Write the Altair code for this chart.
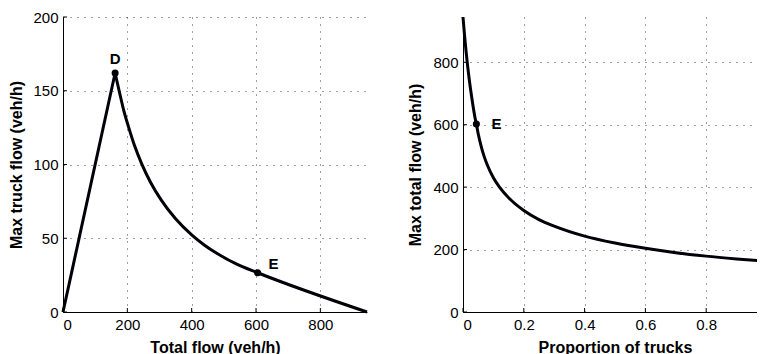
import altair as alt
import pandas as pd

# ---- Left panel: max truck flow vs total flow ----
left_total = [0, 162, 175, 189, 203, 222, 245, 272, 305, 350, 400, 440, 478, 540, 605, 945]
left_truck = [0, 162, 149.5, 136.5, 126, 113, 100.3, 88, 76, 63.2, 52.3, 45.3, 39.8, 32.4, 26.6, 0]
left_points_name = ["D", "E"]
left_points_total = [162, 605]
left_points_truck = [162, 26.6]

# ---- Right panel: max total flow vs proportion of trucks ----
prop_trucks = [0, 0.005, 0.01, 0.02, 0.03, 0.04, 0.044, 0.05, 0.06, 0.07, 0.08, 0.10,
               0.12, 0.15, 0.2, 0.25, 0.3, 0.4, 0.5, 0.6, 0.7, 0.8, 0.9, 1.0]
max_total = [945, 887, 836, 749, 679, 620, 602, 571, 530, 497, 471, 430,
             400, 366, 325, 296, 275, 243, 221, 204, 190, 179, 170, 162]
right_points_name = ["E", "D"]
right_points_prop = [0.044, 1.0]
right_points_total = [602, 162]

x_ticks_left = [0, 200, 400, 600, 800]
y_ticks_left = [0, 50, 100, 150, 200]
x_ticks_right = [0, 0.2, 0.4, 0.6, 0.8, 1.0]
y_ticks_right = [0, 200, 400, 600, 800]

FONT = "Liberation Sans"
LINE = "#000008"
TICK = 4

left_df = pd.DataFrame({
    "total": left_total[:2] + left_total[1:],
    "truck": left_truck[:2] + left_truck[1:],
    "seg": ["up", "up"] + ["down"] * (len(left_total) - 1),
})
left_pts = pd.DataFrame({"name": left_points_name, "total": left_points_total,
                         "truck": left_points_truck})
right_df = pd.DataFrame({"p": prop_trucks, "q": max_total})
right_pts = pd.DataFrame({"name": right_points_name, "p": right_points_prop,
                          "q": right_points_total})

W, H = 304, 295

lx = alt.X("total:Q", title="Total flow (veh/h)",
           scale=alt.Scale(domain=[0, 945], nice=False),
           axis=alt.Axis(values=x_ticks_left))
ly = alt.Y("truck:Q", title="Max truck flow (veh/h)",
           scale=alt.Scale(domain=[0, 200], nice=False),
           axis=alt.Axis(values=y_ticks_left, titlePadding=8))

left_line = alt.Chart(left_df).mark_line(color=LINE, strokeWidth=3, interpolate="monotone").encode(
    x=lx, y=ly, detail="seg:N")
left_dot = alt.Chart(left_pts).mark_circle(color=LINE, size=50, opacity=1).encode(x=lx, y=ly)
left_D = alt.Chart(left_pts[left_pts.name == "D"]).mark_text(
    font=FONT, fontSize=15, fontWeight="bold", color="black", dy=-14, baseline="middle"
).encode(x=lx, y=ly, text="name:N")
left_E = alt.Chart(left_pts[left_pts.name == "E"]).mark_text(
    font=FONT, fontSize=15, fontWeight="bold", color="black", align="left", dx=11, dy=-9,
    baseline="middle"
).encode(x=lx, y=ly, text="name:N")
left_xt = alt.Chart(pd.DataFrame({"total": x_ticks_left})).mark_rule(color="black").encode(
    x=lx, y=alt.value(H), y2=alt.value(H - TICK))
left_yt = alt.Chart(pd.DataFrame({"truck": y_ticks_left})).mark_rule(color="black").encode(
    y=ly, x=alt.value(0), x2=alt.value(TICK))
left = alt.layer(left_xt, left_yt, left_line, left_dot, left_D, left_E).properties(width=W, height=H)

rx = alt.X("p:Q", title="Proportion of trucks",
           scale=alt.Scale(domain=[0, 1], nice=False),
           axis=alt.Axis(values=x_ticks_right, format=".1~f"))
ry = alt.Y("q:Q", title="Max total flow (veh/h)",
           scale=alt.Scale(domain=[0, 945], nice=False),
           axis=alt.Axis(values=y_ticks_right, titlePadding=9))

right_line = alt.Chart(right_df).mark_line(color=LINE, strokeWidth=3, interpolate="monotone").encode(
    x=rx, y=ry)
right_dot = alt.Chart(right_pts).mark_circle(color=LINE, size=50, opacity=1).encode(x=rx, y=ry)
right_E = alt.Chart(right_pts[right_pts.name == "E"]).mark_text(
    font=FONT, fontSize=15, fontWeight="bold", color="black", align="left", dx=15,
    baseline="middle"
).encode(x=rx, y=ry, text="name:N")
right_D = alt.Chart(right_pts[right_pts.name == "D"]).mark_text(
    font=FONT, fontSize=15, fontWeight="bold", color="black", dy=-13, baseline="middle"
).encode(x=rx, y=ry, text="name:N")
right_xt = alt.Chart(pd.DataFrame({"p": x_ticks_right})).mark_rule(color="black").encode(
    x=rx, y=alt.value(H), y2=alt.value(H - TICK))
right_yt = alt.Chart(pd.DataFrame({"q": y_ticks_right})).mark_rule(color="black").encode(
    y=ry, x=alt.value(0), x2=alt.value(TICK))
right = alt.layer(right_xt, right_yt, right_line, right_dot, right_E, right_D).properties(
    width=W, height=H)

SVG_W, SVG_H = 749, 338
PAD_L, PAD_T = 55, 9

chart = alt.hconcat(left, right, spacing=96, bounds="flush").properties(
    autosize=alt.AutoSizeParams(type="none"),
    padding={"left": PAD_L, "top": PAD_T, "right": SVG_W - PAD_L, "bottom": SVG_H - PAD_T},
).configure_view(stroke=None).configure_axis(
    labelFont=FONT, labelFontSize=15, labelColor="black", labelPadding=5,
    titleFont=FONT, titleFontSize=16, titleFontWeight="bold", titleColor="black",
    titlePadding=7,
    domainColor="black", domainWidth=1, ticks=False,
    grid=True, gridColor="#000000", gridOpacity=0.75, gridDash=[1, 6], gridWidth=1,
)

chart.save("out.html", embed_options={"renderer": "svg", "actions": False})
